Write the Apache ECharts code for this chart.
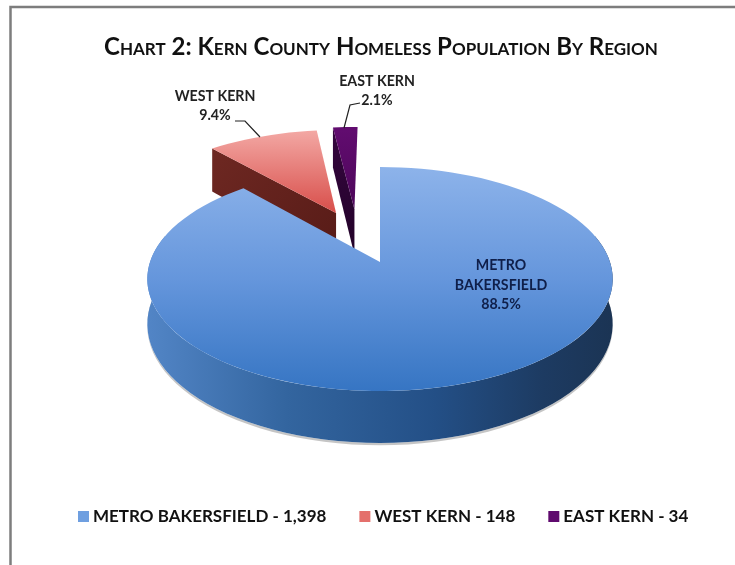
<!DOCTYPE html>
<html><head><meta charset="utf-8">
<style>html,body{margin:0;padding:0;background:#fff}#c{width:735px;height:565px}</style>
<script src="https://cdn.jsdelivr.net/npm/echarts@6/dist/echarts.min.js"></script>
</head><body><div id="c"></div>
<script>
var chartTitle = 'Chart 2: Kern County Homeless Population By Region';
var regions = ['METRO BAKERSFIELD', 'WEST KERN', 'EAST KERN'];
var counts = [1398, 148, 34];
var shares = [88.5, 9.4, 2.1];
var shareLabels = ['88.5%', '9.4%', '2.1%'];

var CX = 380, CY = 262, RX = 230, A = 109.4, K = 0.152;
function project(u, v, drop) {
  var w = 1 + K * v;
  return [CX + RX * u / w, CY - A * v / w + (drop || 0) / w];
}
var total = shares.reduce(function (a, b) { return a + b; }, 0);
function rim(a, o, drop) {
  return project(o[0] + Math.sin(a), o[1] + Math.cos(a), drop);
}
function arc(a0, a1, o, drop) {
  var n = Math.max(4, Math.ceil(Math.abs(a1 - a0) * 60 / Math.PI)), p = [];
  for (var i = 0; i <= n; i++) p.push(rim(a0 + (a1 - a0) * i / n, o, drop));
  return p;
}
function grad(x0, y0, x1, y1, stops) {
  return new echarts.graphic.LinearGradient(x0, y0, x1, y1, stops.map(function (s) { return { offset: s[0], color: s[1] }; }));
}
var TAU = Math.PI * 2;
var angles = [], acc = 0;
shares.forEach(function (s) { angles.push([acc / total * TAU, (acc + s) / total * TAU]); acc += s; });

var looks = [
  { key: '#6F9FE0', offset: [0, 0], depth: 44,
    top: grad(0, 0, 0, 1, [[0, '#8DB3EA'], [0.5, '#6596DC'], [1, '#3675C3']]),
    wall: grad(0, 0, 1, 0, [[0, '#5285C6'], [0.3, '#33659F'], [0.62, '#234F86'], [0.85, '#1D3B62'], [1, '#1B3454']]) },
  { key: '#E4706C', offset: [-0.205, 0.481], depth: 51,
    top: grad(0, 0, 0, 1, [[0, '#F3A8A4'], [1, '#D84E4A']]),
    wall: grad(0, 0, 1, 1, [[0, '#6E2822'], [1, '#571B17']]) },
  { key: '#5F0A6E', offset: [-0.12, 0.52], depth: 49,
    top: grad(0, 0, 0, 1, [[0, '#620C70'], [1, '#4C0659']]),
    wall: grad(0, 0, 0, 1, [[0, '#35063F'], [1, '#220228']]) }
];

function sliceItem(idx) {
  return function () {
    var L = looks[idx], a0 = angles[idx][0], a1 = angles[idx][1], o = L.offset, d = L.depth, kids = [];
    if (idx === 0) {
      var vis0 = Math.PI * 0.42, vis1 = Math.PI * 1.58;
      var outer = arc(vis0, vis1, o, 0).concat(arc(vis1, vis0, o, d));
      kids.push({ type: 'polygon', shape: { points: arc(vis0, vis1, o, d + 2).concat(arc(vis1, vis0, o, d)) },
        style: { fill: 'rgba(90,90,90,0.35)' } });
      kids.push({ type: 'polygon', shape: { points: outer }, style: { fill: L.wall } });
    } else {
      var c = project(o[0], o[1], 0), cd = project(o[0], o[1], d);
      var s = rim(a0, o, 0), sd = rim(a0, o, d);
      kids.push({ type: 'polygon', shape: { points: [c, s, sd, cd] }, style: { fill: L.wall } });
    }
    var top = [project(o[0], o[1], 0)].concat(arc(a0, a1, o, 0));
    kids.push({ type: 'polygon', shape: { points: top }, style: { fill: L.top } });
    return { type: 'group', children: kids };
  };
}

function legendName(i) { return regions[i] + ' - ' + counts[i].toLocaleString('en-US'); }
var labelFont = { fontFamily: 'Lato', fontWeight: 'bold', fontSize: 14.2, lineHeight: 19.5, align: 'center', verticalAlign: 'middle' };
function textAt(x, y, text, fill) {
  return { type: 'text', silent: true, z: 10, style: Object.assign({ x: x, y: y, text: text, fill: fill }, labelFont) };
}
var seriesList = [1, 2, 0].map(function (i) {
  return {
    type: 'custom', coordinateSystem: 'none', name: legendName(i),
    silent: true, z: i === 0 ? 3 : 2,
    itemStyle: { color: looks[i].key },
    data: [counts[i]], renderItem: sliceItem(i)
  };
});

var opt = {
  animation: false, backgroundColor: '#fff',
  title: { text: chartTitle, left: 376, top: 30, textAlign: 'center',
    textStyle: { fontFamily: 'Lato', fontStyle: 'small-caps', fontWeight: 'bold', fontSize: 24, color: '#111' } },
  legend: { data: [0, 1, 2].map(legendName),
    left: 73, top: 503, icon: 'rect', itemWidth: 11, itemHeight: 11, itemGap: 33,
    textStyle: { fontFamily: 'Lato', fontWeight: 'bold', fontSize: 17, color: '#111', padding: [0, 0, 0, -1] } },
  graphic: [
    { type: 'polyline', silent: true, shape: { points: [[10.5, 566], [10.5, 7], [736, 7]] }, style: { stroke: '#7d7d7d', lineWidth: 2.5, fill: null } },
    { type: 'polyline', silent: true, z: 10, shape: { points: [[235, 121], [245, 121], [260, 137]] }, style: { stroke: '#222', lineWidth: 1.2, fill: null } },
    { type: 'polyline', silent: true, z: 10, shape: { points: [[360, 103], [350, 105], [344, 128]] }, style: { stroke: '#222', lineWidth: 1.2, fill: null } },
    textAt(501, 285, 'METRO\nBAKERSFIELD\n' + shareLabels[0], '#0f1f4a'),
    textAt(215, 106, regions[1] + '\n' + shareLabels[1], '#222'),
    textAt(377, 91, regions[2] + '\n' + shareLabels[2], '#222')
  ],
  series: seriesList
};
var chart = echarts.init(document.getElementById('c'), null, { renderer: 'canvas' });
chart.setOption(opt);
</script></body></html>
